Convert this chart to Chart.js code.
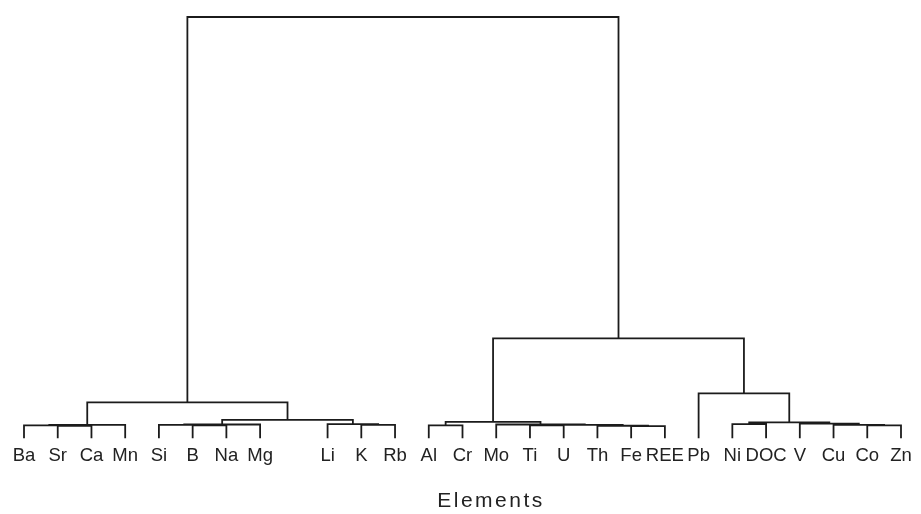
<!DOCTYPE html>
<html>
<head>
<meta charset="utf-8">
<title>Elements dendrogram</title>
<script src="https://cdn.jsdelivr.net/npm/chart.js@4.4.1/dist/chart.umd.min.js"></script>
<style>
  html, body { margin: 0; padding: 0; background: #ffffff; }
  #wrap { width: 921px; height: 514px; }
</style>
</head>
<body>
<div id="wrap"><canvas id="dendro"></canvas></div>
<script>
// Leaf order along the bottom (one slot is left empty)
const leafLabels = ["Ba", "Sr", "Ca", "Mn", "Si", "B", "Na", "Mg", "", "Li", "K", "Rb",
    "Al", "Cr", "Mo", "Ti", "U", "Th", "Fe", "REE", "Pb", "Ni", "DOC", "V", "Cu", "Co", "Zn"];

// Merge table: a string is a leaf, a number points at an earlier merge
const mergeLeft  = ["Sr", "Ba", 1, "B", "Si", 4, "K", "Li", 5, 2,
    "Al", "Fe", "Th", "Ti", 13, "Mo", 10, "Ni", "Co", "Cu", "V", 17, "Pb", 16, 9];
const mergeRight = ["Ca", 0, "Mn", "Na", 3, "Mg", "Rb", 6, 7, 8,
    "Cr", "REE", 11, "U", 12, 14, 15, "DOC", "Zn", 18, 19, 20, 21, 22, 23];
const mergeHeight = [0.30, 0.31, 0.32, 0.31, 0.32, 0.33, 0.32, 0.34, 0.44, 0.855,
    0.31, 0.29, 0.30, 0.31, 0.32, 0.33, 0.39, 0.34, 0.31, 0.32, 0.35, 0.38, 1.07, 2.375, 10.0];

const xTitle = "Elements";

// Build the bracket segments, each merge sits halfway between its children
const nodeX = [];
const childPos = (ref) => typeof ref === "string"
    ? { x: leafLabels.indexOf(ref), h: 0 }
    : { x: nodeX[ref], h: mergeHeight[ref] };

const segments = [];
mergeLeft.forEach((left, i) => {
    const a = childPos(left);
    const b = childPos(mergeRight[i]);
    const h = mergeHeight[i];
    nodeX[i] = (a.x + b.x) / 2;
    segments.push(
        { x: a.x, y: a.h }, { x: a.x, y: h },
        { x: b.x, y: h }, { x: b.x, y: b.h },
        { x: b.x, y: null } // break the line before the next bracket
    );
});

const inkColor = "#1b1b1b";
const textColor = "#222222";
const fontFamily = "'Liberation Sans', Arial, Helvetica, sans-serif";

// Axis caption sits a little right of centre, so it is drawn by hand
const captionPlugin = {
    id: "caption",
    afterDraw(chart) {
        const c = chart.ctx;
        c.save();
        c.font = `21px ${fontFamily}`;
        c.fillStyle = textColor;
        c.textAlign = "center";
        c.textBaseline = "alphabetic";
        if ("letterSpacing" in c) c.letterSpacing = "2.5px";
        c.fillText(xTitle, 491, 507);
        c.restore();
    },
};

const ctx = document.getElementById("dendro").getContext("2d");
new Chart(ctx, {
    type: "scatter",
    data: {
        datasets: [{
            data: segments,
            showLine: true,
            spanGaps: false,
            borderColor: inkColor,
            borderWidth: 1.8,
            pointRadius: 0,
            pointHoverRadius: 0,
            tension: 0,
        }],
    },
    options: {
        responsive: true,
        maintainAspectRatio: false,
        animation: false,
        events: [],
        layout: { padding: { left: 0, right: 0, top: 0, bottom: 41.4 } },
        plugins: {
            legend: { display: false },
            tooltip: { enabled: false },
        },
        scales: {
            x: {
                type: "linear",
                min: -0.7115,
                max: 26.593,
                grid: { display: false, drawTicks: false },
                border: { display: false },
                afterBuildTicks: (scale) => {
                    scale.ticks = leafLabels.map((_, i) => ({ value: i }));
                },
                ticks: {
                    autoSkip: false,
                    minRotation: 0,
                    maxRotation: 0,
                    padding: 6,
                    color: textColor,
                    font: { family: fontFamily, size: 18.5 },
                    callback: (value) => leafLabels[value] ?? "",
                },
                title: { display: false },
            },
            y: {
                display: false,
                min: 0,
                max: 10.404,
            },
        },
    },
    plugins: [captionPlugin],
});
</script>
</body>
</html>
